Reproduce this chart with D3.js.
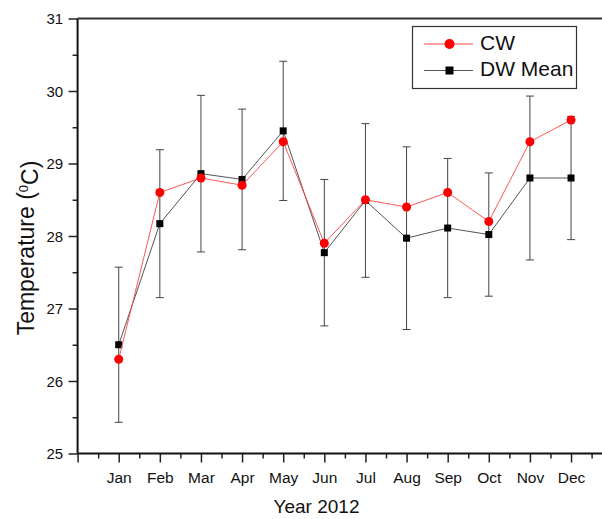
<!DOCTYPE html>
<html>
<head>
<meta charset="utf-8">
<script src="https://cdn.jsdelivr.net/npm/d3@7"></script>
<style>
    body { margin: 0; background: #fff; }
    svg { display: block; font-family: "Liberation Sans", Arial, sans-serif; }
</style>
</head>
<body>
<div id="chart"></div>
<script>
// data
const months = ["Jan", "Feb", "Mar", "Apr", "May", "Jun", "Jul", "Aug", "Sep", "Oct", "Nov", "Dec"];
const cwValues = [26.3, 28.6, 28.8, 28.7, 29.3, 27.9, 28.5, 28.4, 28.6, 28.2, 29.3, 29.6];
const dwMean = [26.5, 28.17, 28.86, 28.78, 29.45, 27.77, 28.49, 27.97, 28.11, 28.02, 28.8, 28.8];
const dwError = [1.07, 1.02, 1.08, 0.97, 0.96, 1.01, 1.06, 1.26, 0.96, 0.85, 1.13, 0.85];
const yTicks = [25, 26, 27, 28, 29, 30, 31];
const yMinorTicks = [25.5, 26.5, 27.5, 28.5, 29.5, 30.5];
const seriesNames = ["CW", "DW Mean"];

const width = 602, height = 519;
const plotLeft = 77.6, plotTop = 18.5, plotBottom = 453.5;
const step = 41.12;

const svg = d3.select("#chart").append("svg")
    .attr("width", width)
    .attr("height", height);

// x goes 0..13, month i sits at i+1; the right side runs off the picture
const x = d3.scaleLinear().domain([0, 13]).range([plotLeft, plotLeft + 13 * step]);
const y = d3.scaleLinear().domain([25, 31]).range([plotBottom, plotTop]);

const points = months.map((m, i) => ({
    month: m,
    pos: i + 1,
    cw: cwValues[i],
    dw: dwMean[i],
    err: dwError[i]
}));

// axes
let xMajor = d3.range(0, 14);
let xMinor = d3.range(0, 13).map((d) => d + 0.5);

let xAxis = svg.append("g")
    .attr("transform", `translate(0,${plotBottom})`)
    .call(d3.axisBottom(x).tickValues(xMajor).tickSize(9).tickSizeOuter(0)
        .tickFormat((d) => (d >= 1 && d <= 12) ? months[d - 1] : ""));
xAxis.select(".domain").remove();
xAxis.selectAll("line").attr("stroke", "#222").attr("stroke-width", 1.5);
xAxis.selectAll("text")
    .attr("y", 29).attr("dy", 0)
    .attr("fill", "#111")
    .style("font-size", "15.5px");

svg.append("g")
    .attr("transform", `translate(0,${plotBottom})`)
    .call(d3.axisBottom(x).tickValues(xMinor).tickSize(5).tickFormat(""))
    .call((g) => g.select(".domain").remove())
    .selectAll("line").attr("stroke", "#222").attr("stroke-width", 1.5);

let yAxis = svg.append("g")
    .attr("transform", `translate(${plotLeft},0)`)
    .call(d3.axisLeft(y).tickValues(yTicks).tickSize(9).tickSizeOuter(0).tickFormat(d3.format("d")));
yAxis.select(".domain").remove();
yAxis.selectAll("line").attr("stroke", "#222").attr("stroke-width", 1.5);
yAxis.selectAll("text")
    .attr("x", -14.5)
    .attr("dy", "0.36em")
    .attr("fill", "#111")
    .style("font-size", "15px");

svg.append("g")
    .attr("transform", `translate(${plotLeft},0)`)
    .call(d3.axisLeft(y).tickValues(yMinorTicks).tickSize(5).tickFormat(""))
    .call((g) => g.select(".domain").remove())
    .selectAll("line").attr("stroke", "#222").attr("stroke-width", 1.5);

// frame: left, bottom, top
svg.append("line")
    .attr("x1", plotLeft).attr("x2", plotLeft)
    .attr("y1", y(31)).attr("y2", y(25))
    .attr("stroke", "#111").attr("stroke-width", 2);
svg.append("line")
    .attr("x1", plotLeft).attr("x2", width)
    .attr("y1", y(25)).attr("y2", y(25))
    .attr("stroke", "#111").attr("stroke-width", 2);
svg.append("line")
    .attr("x1", plotLeft).attr("x2", width)
    .attr("y1", y(31)).attr("y2", y(31))
    .attr("stroke", "#333").attr("stroke-width", 2);

// titles
svg.append("text")
    .attr("x", 316.5).attr("y", 513)
    .attr("text-anchor", "middle")
    .attr("fill", "#111")
    .style("font-size", "19px")
    .text("Year 2012");

let yTitle = svg.append("text")
    .attr("transform", "translate(33.5,248) rotate(-90)")
    .attr("text-anchor", "middle")
    .attr("fill", "#111")
    .style("font-size", "23px");
yTitle.append("tspan").text("Temperature (");
yTitle.append("tspan").attr("dy", "-0.45em").style("font-size", "13px").text("0");
yTitle.append("tspan").attr("dy", "0.45em").text("C)");

// error bars on DW mean
let bars = svg.append("g").attr("stroke", "#444").attr("stroke-width", 1);
bars.selectAll("line.bar").data(points).enter()
    .append("line").attr("class", "bar")
    .attr("x1", (d) => x(d.pos)).attr("x2", (d) => x(d.pos))
    .attr("y1", (d) => y(d.dw + d.err)).attr("y2", (d) => y(d.dw - d.err));
bars.selectAll("line.capTop").data(points).enter()
    .append("line").attr("class", "capTop")
    .attr("x1", (d) => x(d.pos) - 4).attr("x2", (d) => x(d.pos) + 4)
    .attr("y1", (d) => y(d.dw + d.err)).attr("y2", (d) => y(d.dw + d.err));
bars.selectAll("line.capBottom").data(points).enter()
    .append("line").attr("class", "capBottom")
    .attr("x1", (d) => x(d.pos) - 4).attr("x2", (d) => x(d.pos) + 4)
    .attr("y1", (d) => y(d.dw - d.err)).attr("y2", (d) => y(d.dw - d.err));

// DW mean series
let dwLine = d3.line().x((d) => x(d.pos)).y((d) => y(d.dw));
svg.append("path")
    .datum(points)
    .attr("d", dwLine)
    .attr("fill", "none")
    .attr("stroke", "#555")
    .attr("stroke-width", 1);
svg.selectAll("rect.dw").data(points).enter()
    .append("rect").attr("class", "dw")
    .attr("x", (d) => x(d.pos) - 3.5)
    .attr("y", (d) => y(d.dw) - 3.5)
    .attr("width", 7).attr("height", 7)
    .attr("fill", "#000");

// CW series
let cwLine = d3.line().x((d) => x(d.pos)).y((d) => y(d.cw));
svg.append("path")
    .datum(points)
    .attr("d", cwLine)
    .attr("fill", "none")
    .attr("stroke", "#f44")
    .attr("stroke-width", 0.9);
svg.selectAll("circle.cw").data(points).enter()
    .append("circle").attr("class", "cw")
    .attr("cx", (d) => x(d.pos))
    .attr("cy", (d) => y(d.cw))
    .attr("r", 4.5)
    .attr("fill", "#f00");

// legend
let legend = svg.append("g");
legend.append("rect")
    .attr("x", 412.5).attr("y", 26.5)
    .attr("width", 164).attr("height", 62)
    .attr("fill", "#fff")
    .attr("stroke", "#333").attr("stroke-width", 1.2);

let rowY = [44, 70.5];
legend.append("line")
    .attr("x1", 424).attr("x2", 473).attr("y1", rowY[0]).attr("y2", rowY[0])
    .attr("stroke", "#f44").attr("stroke-width", 1);
legend.append("circle")
    .attr("cx", 449.5).attr("cy", rowY[0]).attr("r", 5)
    .attr("fill", "#f00");
legend.append("line")
    .attr("x1", 424).attr("x2", 473).attr("y1", rowY[1]).attr("y2", rowY[1])
    .attr("stroke", "#555").attr("stroke-width", 1);
legend.append("rect")
    .attr("x", 445.5).attr("y", rowY[1] - 4).attr("width", 8).attr("height", 8)
    .attr("fill", "#000");
legend.selectAll("text").data(seriesNames).enter()
    .append("text")
    .attr("x", 480)
    .attr("y", (d, i) => rowY[i] + 5.5)
    .attr("fill", "#111")
    .style("font-size", "21px")
    .text((d) => d);
</script>
</body>
</html>
